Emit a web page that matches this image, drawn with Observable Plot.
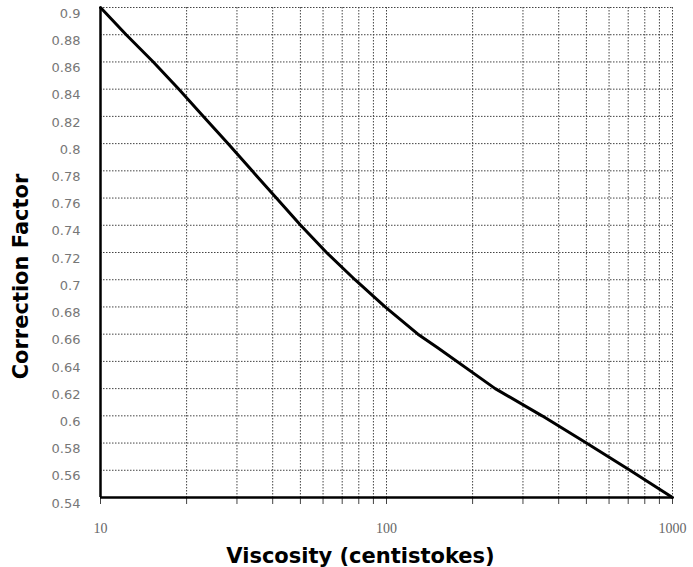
<!DOCTYPE html>
<html>
<head>
<meta charset="utf-8">
<script src="https://cdn.jsdelivr.net/npm/d3@7"></script>
<script src="https://cdn.jsdelivr.net/npm/@observablehq/plot@0.6"></script>
<style>
  html, body { margin: 0; padding: 0; background: #fff; }
</style>
</head>
<body>
<div id="chart"></div>
<script>
// Data
const viscosity = [10, 12.3, 15.3, 18.8, 22.9, 27.9, 33.9, 41.2, 50.1, 61.7, 77.6, 98.9, 128.8, 151, 240, 350, 500, 710, 1000];
const factor    = [0.90, 0.88, 0.86, 0.84, 0.82, 0.80, 0.78, 0.76, 0.74, 0.72, 0.70, 0.68, 0.66, 0.65, 0.62, 0.60, 0.58, 0.56, 0.54];

const yTicks = [0.54, 0.56, 0.58, 0.6, 0.62, 0.64, 0.66, 0.68, 0.7, 0.72, 0.74, 0.76, 0.78, 0.8, 0.82, 0.84, 0.86, 0.88, 0.9];
const xGrid = [10, 20, 30, 40, 50, 60, 70, 80, 90, 100, 200, 300, 400, 500, 600, 700, 800, 900, 1000];
const xLabels = [10, 100, 1000];

const xTitle = "Viscosity (centistokes)";
const yTitle = "Correction Factor";

const data = viscosity.map((v, i) => ({viscosity: v, factor: factor[i]}));

const chart = Plot.plot({
  width: 693,
  height: 567,
  marginLeft: 100,
  marginRight: 21,
  marginTop: 7,
  marginBottom: 70,
  style: {fontFamily: "DejaVu Sans", background: "#fff"},
  x: {type: "log", domain: [10, 1000]},
  y: {domain: [0.54, 0.9]},
  marks: [
    Plot.gridX(xGrid, {stroke: "#444", strokeOpacity: 1, strokeWidth: 1, strokeDasharray: "1.5,1.5"}),
    Plot.gridY(yTicks, {stroke: "#444", strokeOpacity: 1, strokeWidth: 1, strokeDasharray: "1.5,1.5"}),
    Plot.axisX(xGrid, {tickSize: 7, tickFormat: () => "", stroke: "#444", label: null}),
    Plot.axisX(xLabels, {tickSize: 0, tickPadding: 26, tickFormat: d => String(d), fontFamily: "Liberation Serif", fontSize: 14, fill: "#666", label: null}),
    Plot.axisY(yTicks, {tickSize: 0, tickPadding: 20, dy: 6, tickFormat: d => String(d), fontSize: 13, fill: "#777", label: null}),
    Plot.ruleX([10], {stroke: "#000", strokeWidth: 2.5}),
    Plot.ruleY([0.54], {stroke: "#000", strokeWidth: 2.5}),
    Plot.line(data, {x: "viscosity", y: "factor", stroke: "#000", strokeWidth: 3}),
    Plot.text([xTitle], {frameAnchor: "bottom", dx: -26, dy: 65, lineAnchor: "bottom", fontSize: 21, fontWeight: "bold", fill: "#000"}),
    Plot.text([yTitle], {frameAnchor: "left", textAnchor: "middle", dx: -79, dy: 24, rotate: -90, fontSize: 21, fontWeight: "bold", fill: "#000"})
  ]
});

document.getElementById("chart").appendChild(chart);
</script>
</body>
</html>
